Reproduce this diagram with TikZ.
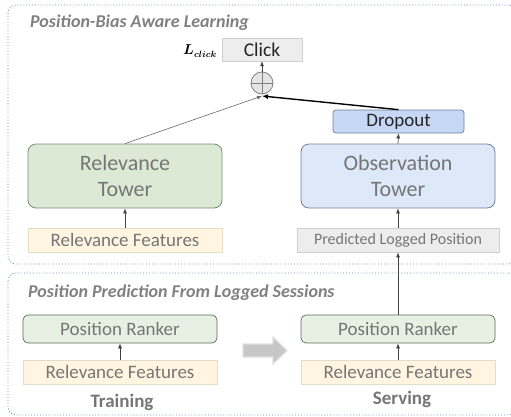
\documentclass[tikz,border=0pt]{standalone}
\usepackage{fontspec}
\usepackage{bm}
\setmainfont{Carlito}
\usetikzlibrary{arrows.meta,calc}
\definecolor{txt}{HTML}{767676}
\definecolor{ttl}{HTML}{808080}
\definecolor{dotc}{HTML}{6F86BE}
\definecolor{greenf}{HTML}{DCE9D5}
\definecolor{greenb}{HTML}{7C8A7A}
\definecolor{blueF}{HTML}{DDE8F8}
\definecolor{blueB}{HTML}{6F7F9C}
\definecolor{dropF}{HTML}{C6D8F5}
\definecolor{creamF}{HTML}{FFF5E0}
\definecolor{creamB}{HTML}{E2DCC8}
\definecolor{grayF}{HTML}{EDEDED}
\definecolor{grayB}{HTML}{CFCFCF}
\definecolor{rankF}{HTML}{E7F1E3}
\definecolor{rankB}{HTML}{5E6A5E}
\tikzset{
  tower/.style={draw, rounded corners=8pt, minimum width=194pt, minimum height=64pt, align=center, text=txt, font=\fontsize{22}{26}\selectfont, inner sep=0pt, line width=0.8pt},
  featbox/.style={draw=creamB, fill=creamF, minimum width=194pt, minimum height=24pt, text=txt, font=\fontsize{19}{21}\selectfont, inner sep=0pt, line width=0.8pt},
  rankbox/.style={draw=rankB, fill=rankF, rounded corners=5pt, minimum width=194pt, minimum height=28pt, text=txt, font=\fontsize{19}{21}\selectfont, inner sep=0pt, line width=0.7pt},
  secttitle/.style={anchor=west, text=ttl, font=\fontsize{18}{21}\selectfont\bfseries\itshape, inner sep=0pt},
  phase/.style={text=txt, font=\fontsize{19}{22}\selectfont\bfseries, inner sep=0pt},
  arr/.style={-{Latex[length=5pt,width=4pt]}, line width=0.7pt, draw=black!75},
  panel/.style={draw=dotc, dotted, line width=0.9pt, rounded corners=8pt},
}
\begin{document}
\begin{tikzpicture}[x=1pt,y=-1pt]
\useasboundingbox (0,0) rectangle (511,416);
\clip (0,0) rectangle (511,416);
% panels
\draw[panel] (8,5) rectangle (516,264);
\draw[panel] (8,273) rectangle (516,415);
% titles
\node[secttitle] (t1) at (30,23) {Position-Bias Aware Learning};
\node[secttitle] (t2) at (28,293) {Position Prediction From Logged Sessions};
% top part
\node[draw=grayB, fill=grayF, minimum width=80pt, minimum height=23pt, inner sep=0pt, font=\fontsize{19.5}{22}\selectfont, text=black!85] (click) at (262,49.5) {Click};
\node[inner sep=0pt, text=black, font=\fontsize{13.5}{15}\selectfont] (lclick) at (200,51) {$\bm{L_{click}}$};
\node[circle, draw=black!50, fill=black!10, minimum size=22pt, inner sep=0pt, line width=0.8pt] (plus) at (262,83) {};
\draw[black!50, line width=0.8pt] (plus.north) -- (plus.south) (plus.west) -- (plus.east);
\coordinate (join) at (262,96);
\node[draw=blueB, fill=dropF, rounded corners=3pt, minimum width=131pt, minimum height=23pt, inner sep=0pt, font=\fontsize{19}{21}\selectfont, text=black!85, line width=0.7pt] (drop) at (398.5,121.5) {Dropout};
\node[tower, draw=greenb, fill=greenf] (relT) at (125,176) {Relevance\\Tower};
\node[tower, draw=blueB, fill=blueF] (obsT) at (398,176) {Observation\\Tower};
\node[featbox] (relF) at (125,240) {Relevance Features};
\node[draw=grayB, fill=grayF, minimum width=202pt, minimum height=24pt, inner sep=0pt, text=txt, font=\fontsize{16}{18}\selectfont, line width=0.8pt] (pred) at (398,240) {Predicted Logged Position};
% bottom part
\node[rankbox] (rankL) at (120,329) {Position Ranker};
\node[featbox] (featL) at (120,372) {Relevance Features};
\node[rankbox] (rankR) at (398,329) {Position Ranker};
\node[featbox] (featR) at (398,372) {Relevance Features};
\node[phase] (train) at (122,402) {Training};
\node[phase] (serve) at (402,399) {Serving};
% block arrow
\fill[black!22, draw=black!12, line width=1.2pt] (243,344) -- (273,344) -- (273,337) -- (287,350.5) -- (273,364) -- (273,357) -- (243,357) -- cycle;
% connectors
\draw[arr] (plus.north) -- (click.south);
\draw[-{Latex[length=6pt,width=5pt]}, line width=1.4pt] (drop.north) -- (join);
\draw[-{Latex[length=5pt,width=4pt]}, line width=0.6pt, draw=black!60] (relT.north) -- (join);
\draw[arr] (obsT.north) -- (drop.south);
\draw[arr] (relF.north) -- (relT.south);
\draw[arr] (pred.north) -- (obsT.south);
\draw[arr] (rankR.north) -- (pred.south);
\draw[arr] (featL.north) -- (rankL.south);
\draw[arr] (featR.north) -- (rankR.south);
\end{tikzpicture}
\end{document}
